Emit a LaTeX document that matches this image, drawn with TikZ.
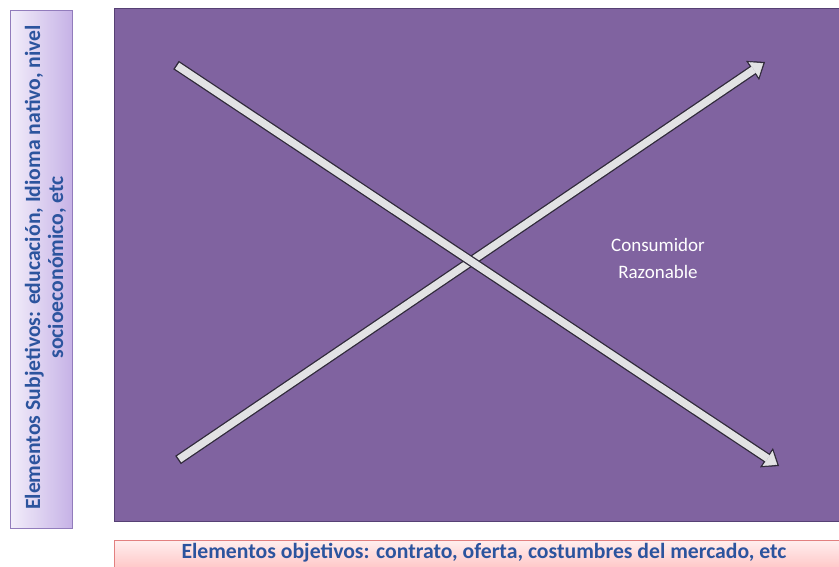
\documentclass[tikz,border=0pt]{standalone}
\usepackage{fontspec}
\setmainfont{Carlito}
\usetikzlibrary{calc,arrows.meta,positioning}
\definecolor{panelPurple}{RGB}{128,99,160}
\definecolor{panelEdge}{RGB}{86,64,116}
\definecolor{lilacLight}{RGB}{242,237,250}
\definecolor{lilacDeep}{RGB}{198,178,230}
\definecolor{lilacEdge}{RGB}{146,124,188}
\definecolor{pinkLight}{RGB}{255,238,238}
\definecolor{pinkDeep}{RGB}{255,188,188}
\definecolor{pinkEdge}{RGB}{226,128,128}
\definecolor{labelBlue}{RGB}{44,84,158}
\definecolor{shaftGray}{RGB}{226,226,228}
\definecolor{shaftEdge}{RGB}{48,42,58}
\tikzset{
  arrowOuter/.style={draw=shaftEdge,line width=10pt,-{Triangle[width=23pt,length=15pt,line width=0.4pt]}},
  arrowInner/.style={draw=shaftGray,line width=7.4pt,shorten >=2.2pt,-{Triangle[width=18pt,length=11.5pt,line width=0.4pt]}},
  labelText/.style={font=\bfseries\fontsize{21.7}{23}\selectfont,text=labelBlue,align=center}
}

\begin{document}
\begin{tikzpicture}[x=1pt,y=-1pt]
\useasboundingbox (0,0) rectangle (839,567);
\clip (0,0) rectangle (839,567);
\node[draw=panelEdge,fill=panelPurple,line width=1pt,minimum width=731pt,minimum height=513pt,anchor=north west,inner sep=0pt] (panel) at (114,8) {};
\node[draw=lilacEdge,left color=lilacLight,right color=lilacDeep,line width=1pt,minimum width=62pt,minimum height=518pt,anchor=north west,inner sep=0pt] (lilac) at (10,10) {};
\node[draw=pinkEdge,top color=pinkLight,bottom color=pinkDeep,line width=1pt,minimum width=731pt,minimum height=36pt,anchor=north west,inner sep=0pt] (pink) at (114,540) {};
\node[labelText,rotate=90] (subjective) at ($(lilac.center)+(4,-2)$) {Elementos Subjetivos: educación, Idioma nativo, nivel\\socioeconómico, etc};
\node[labelText] (objective) at (484,553) {Elementos objetivos: contrato, oferta, costumbres del mercado, etc};
\node[font=\fontsize{19}{27}\selectfont,text=white,align=center] (consumer) at (658,258) {Consumidor\\Razonable};
\coordinate (riseStart) at (178,460);
\coordinate (riseEnd) at (765,62);
\coordinate (fallStart) at (176,65);
\coordinate (fallEnd) at (779,466);
\draw[arrowOuter] (riseStart) -- (riseEnd);
\draw[arrowInner] ($(riseStart)!1.4pt!(riseEnd)$) -- (riseEnd);
\draw[arrowOuter] (fallStart) -- (fallEnd);
\draw[arrowInner] ($(fallStart)!1.4pt!(fallEnd)$) -- (fallEnd);
\end{tikzpicture}
\end{document}
